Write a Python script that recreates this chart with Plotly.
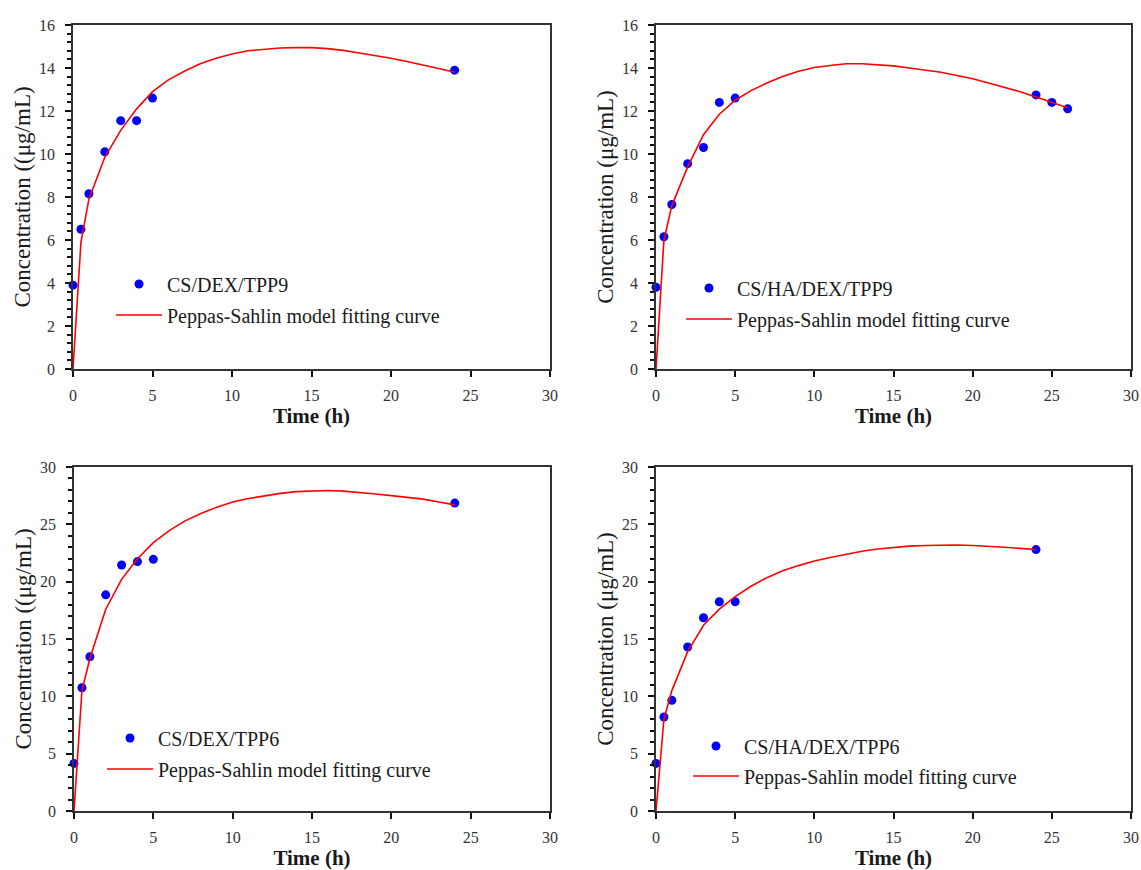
import plotly.graph_objects as go
from plotly.subplots import make_subplots

# ---- measured release data (time in h, concentration in ug/mL) ----
t_pts_a = [0, 0.5, 1, 2, 3, 4, 5, 24]
c_pts_a = [3.9, 6.5, 8.15, 10.1, 11.55, 11.55, 12.6, 13.9]

t_pts_b = [0, 0.5, 1, 2, 3, 4, 5, 24, 25, 26]
c_pts_b = [3.8, 6.15, 7.65, 9.55, 10.3, 12.4, 12.6, 12.75, 12.4, 12.1]

t_pts_c = [0, 0.5, 1, 2, 3, 4, 5, 24]
c_pts_c = [4.15, 10.75, 13.45, 18.85, 21.45, 21.75, 21.95, 26.85]

t_pts_d = [0, 0.5, 1, 2, 3, 4, 5, 24]
c_pts_d = [4.15, 8.2, 9.65, 14.3, 16.85, 18.25, 18.25, 22.8]

# ---- Peppas-Sahlin fitted curves ----
t_fit = [0, 0.5, 1, 2, 3, 4, 5, 6, 7, 8, 9, 10, 11, 12, 13, 14, 15, 16, 17, 18,
         19, 20, 21, 22, 23, 24]
t_fit_b = t_fit + [25, 26]

c_fit_a = [0, 5.9, 7.9, 9.85, 11.1, 12.1, 12.9, 13.45, 13.85, 14.2, 14.45, 14.65,
           14.8, 14.88, 14.93, 14.95, 14.95, 14.9, 14.82, 14.7, 14.58, 14.45,
           14.3, 14.15, 13.98, 13.8]

c_fit_b = [0, 6.0, 7.6, 9.4, 10.9, 11.85, 12.5, 12.95, 13.3, 13.6, 13.85, 14.02,
           14.12, 14.2, 14.2, 14.15, 14.1, 14.0, 13.9, 13.8, 13.65, 13.5, 13.3,
           13.1, 12.9, 12.65, 12.4, 12.15]

c_fit_c = [0, 10.5, 13.3, 17.6, 20.2, 22.0, 23.4, 24.45, 25.3, 25.95, 26.5, 26.95,
           27.25, 27.5, 27.7, 27.85, 27.92, 27.95, 27.9, 27.8, 27.65, 27.5, 27.35,
           27.2, 26.95, 26.7]

c_fit_d = [0, 8.0, 10.5, 13.9, 16.2, 17.6, 18.7, 19.6, 20.35, 20.95, 21.4, 21.8,
           22.1, 22.4, 22.65, 22.85, 23.0, 23.1, 23.15, 23.2, 23.2, 23.15, 23.1,
           23.0, 22.9, 22.8]

sample_names = ["CS/DEX/TPP9", "CS/HA/DEX/TPP9", "CS/DEX/TPP6", "CS/HA/DEX/TPP6"]
fit_name = "Peppas-Sahlin model fitting curve"
y_titles = ["Concentration ((\u03bcg/mL)", "Concentration (\u03bcg/mL)",
            "Concentration ((\u03bcg/mL)", "Concentration (\u03bcg/mL)"]
x_title = "Time (h)"
y_max = [16, 16, 30, 30]
y_dtick = [2, 2, 5, 5]
y_minor = [0.4, 0.4, 1, 1]

points = [(t_pts_a, c_pts_a), (t_pts_b, c_pts_b), (t_pts_c, c_pts_c), (t_pts_d, c_pts_d)]
fits = [(t_fit, c_fit_a), (t_fit_b, c_fit_b), (t_fit, c_fit_c), (t_fit, c_fit_d)]

W, H = 1141, 870
FONT = "Liberation Serif"
INK = "#1a1a1a"

# panel boxes in pixels: (left, right, top, bottom)
boxes = [(73, 550, 25, 369), (656, 1131, 25, 369),
         (74, 550, 467, 811), (656, 1131, 467, 811)]
# legend symbol centre x, marker row y, line row y (pixels)
leg_pos = [(139, 284, 315), (709, 288, 319), (130, 738, 769), (716, 746, 776)]
ITEM_W = 46
SYM_OFFSET = 28

fig = make_subplots(rows=2, cols=2)

for i in range(4):
    r, c = i // 2 + 1, i % 2 + 1
    tp, cp = points[i]
    tf, cf = fits[i]
    lg_a = "legend" if i == 0 else f"legend{2 * i + 1}"
    lg_b = f"legend{2 * i + 2}"
    fig.add_trace(go.Scatter(x=tp, y=cp, mode="markers", name=sample_names[i],
                             marker=dict(color="#0000ff", size=9),
                             cliponaxis=False, legend=lg_a), row=r, col=c)
    fig.add_trace(go.Scatter(x=tf, y=cf, mode="lines", name=fit_name,
                             line=dict(color="#ff0000", width=1.6),
                             legend=lg_b), row=r, col=c)

    left, right, top, bottom = boxes[i]
    xd = [left / W, right / W]
    yd = [1 - bottom / H, 1 - top / H]
    fig.update_xaxes(domain=xd, range=[0, 30], dtick=5, tick0=0, automargin=False,
                     ticks="outside", ticklen=6, tickwidth=2, tickcolor="#111",
                     ticklabelstandoff=5,
                     showline=True, linecolor="#333", linewidth=1.6, mirror=True,
                     showgrid=False, zeroline=False,
                     tickfont=dict(family=FONT, size=16, color="#333"),
                     title=dict(text=f"<b>{x_title}</b>", standoff=3,
                                font=dict(family=FONT, size=21, color=INK)),
                     row=r, col=c)
    fig.update_yaxes(domain=yd, range=[0, y_max[i]], dtick=y_dtick[i], tick0=0,
                     automargin=False,
                     ticks="outside", ticklen=6, tickwidth=2, tickcolor="#111",
                     ticklabelstandoff=7,
                     minor=dict(dtick=y_minor[i], ticks="outside", ticklen=4,
                                tickwidth=1.6, tickcolor="#111", showgrid=False),
                     showline=True, linecolor="#333", linewidth=1.6, mirror=True,
                     showgrid=False, zeroline=False,
                     tickfont=dict(family=FONT, size=16, color="#333"),
                     title=dict(text=y_titles[i], standoff=2,
                                font=dict(family=FONT, size=23, color=INK)),
                     row=r, col=c)

legend_style = dict(bgcolor="rgba(0,0,0,0)", borderwidth=0,
                    font=dict(family=FONT, size=20, color=INK),
                    itemwidth=ITEM_W, xanchor="left", yanchor="middle",
                    tracegroupgap=0)
layout_legends = {}
for i in range(4):
    sx, ya, yb = leg_pos[i]
    key_a = "legend" if i == 0 else f"legend{2 * i + 1}"
    key_b = f"legend{2 * i + 2}"
    layout_legends[key_a] = dict(legend_style, x=(sx - SYM_OFFSET) / W, y=1 - ya / H)
    layout_legends[key_b] = dict(legend_style, x=(sx - SYM_OFFSET) / W, y=1 - yb / H)

fig.update_layout(width=W, height=H, margin=dict(l=0, r=0, t=0, b=0),
                  paper_bgcolor="white", plot_bgcolor="white",
                  showlegend=True, **layout_legends)

fig.write_html("out.html")
